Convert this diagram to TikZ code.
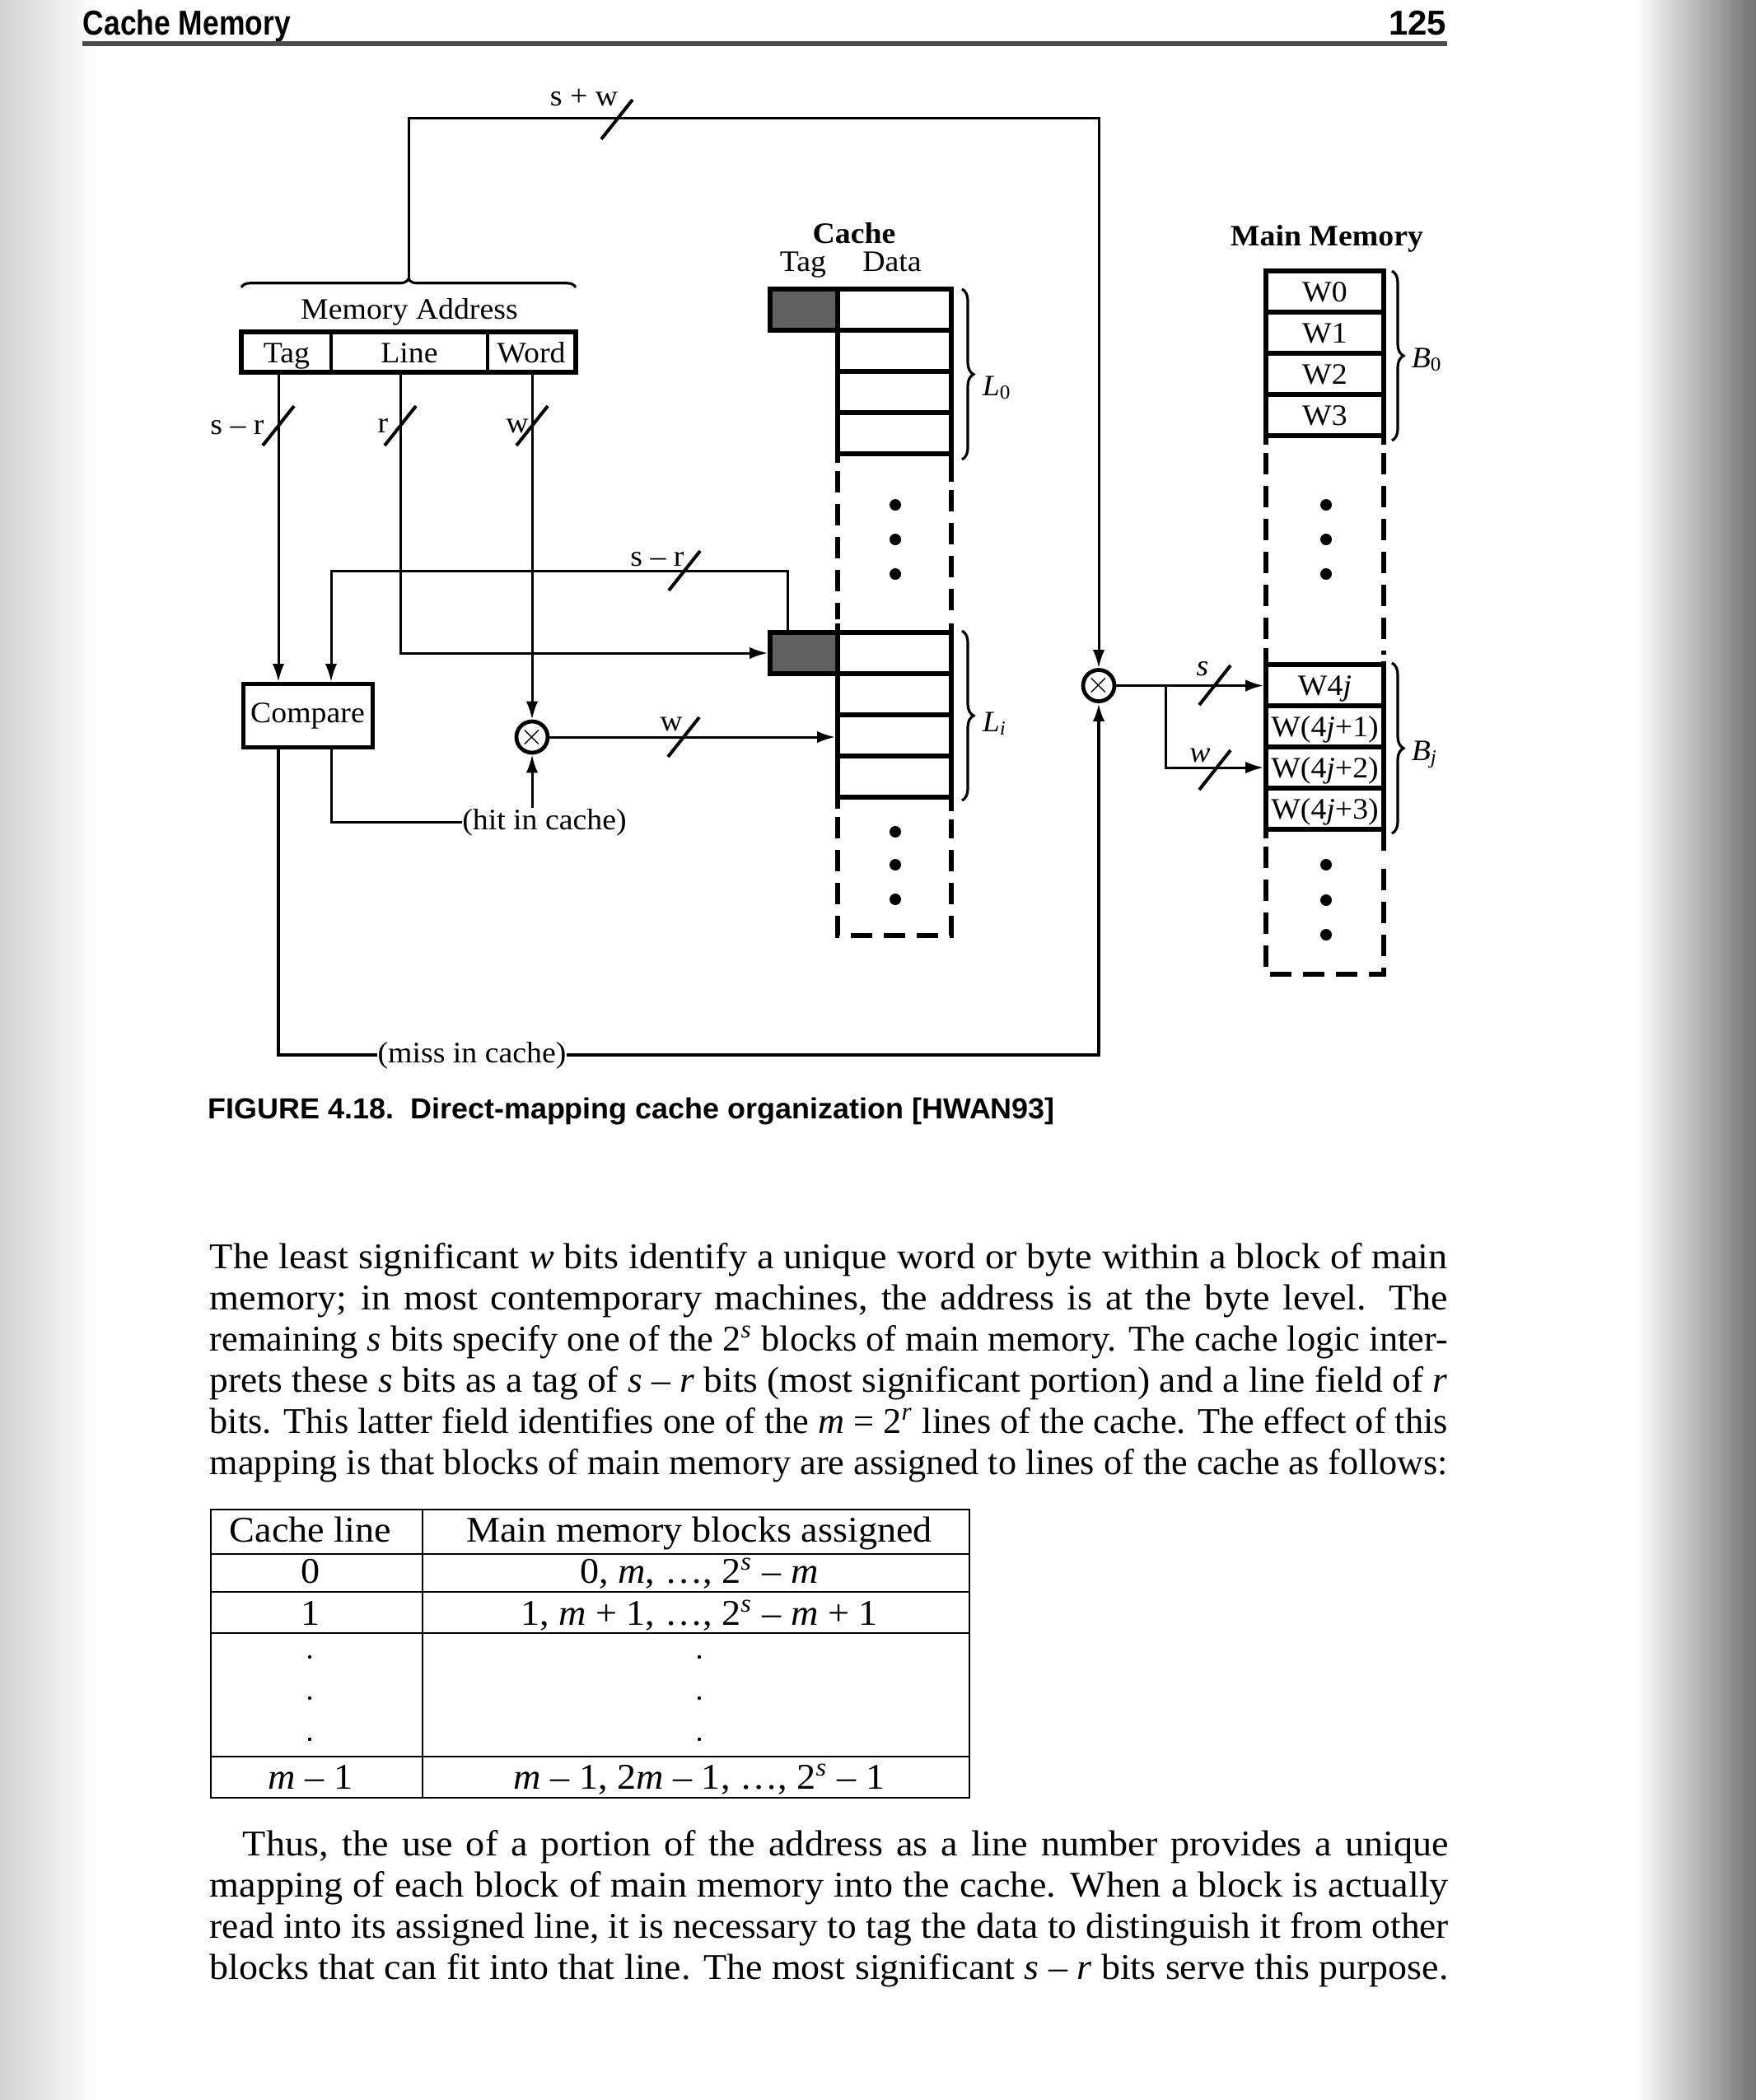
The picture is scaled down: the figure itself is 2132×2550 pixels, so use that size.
\documentclass[tikz,border=0pt]{standalone}
\usepackage{graphicx}
\usepackage{fontspec}
\setmainfont{Liberation Serif}[FakeStretch=1.05]
\setsansfont{Liberation Sans}
\usetikzlibrary{arrows.meta,decorations.pathreplacing}
\newlength\jlw
\newcommand\jline[2]{\settowidth\jlw{#2}\ifdim\jlw>#1\relax\resizebox{#1}{\height}{#2}\else\makebox[#1][s]{#2}\fi}
\begin{document}
\begin{tikzpicture}[x=0.25pt,y=-0.25pt,
  conn/.style={line width=0.75pt},
  arr/.style={conn,-{Latex[length=5.5pt,width=3.6pt]}},
  solidln/.style={line width=1.4pt},
  dashln/.style={line width=1.4pt,dash pattern=on 6.5pt off 3.5pt},
  lbl/.style={anchor=base,inner sep=0pt,font=\fontsize{9}{10}\selectfont},
  blbl/.style={anchor=base,inner sep=0pt,font=\fontsize{9}{10}\selectfont\bfseries},
  mul/.style={circle,draw,line width=1.2pt,minimum size=38*0.25pt,inner sep=0pt,font=\fontsize{9}{9}\selectfont},
  tagcell/.style={draw,line width=1.4pt,fill=black!62,minimum width=82*0.25pt,minimum height=50*0.25pt,inner sep=0pt},
  dcell/.style={draw,line width=1.4pt,minimum width=138*0.25pt,minimum height=50*0.25pt,inner sep=0pt},
  mmcell/.style={draw,line width=1.4pt,minimum width=143*0.25pt,minimum height=50*0.25pt,inner sep=0pt,
     text height=7.5pt,text depth=1.5pt,font=\fontsize{9}{10}\selectfont},
  brc/.style={decorate,decoration={brace,amplitude=3.5pt},line width=0.8pt},
  bus/.pic={\draw[line width=1pt] (-19,24) -- (19,-24);},
  body/.style={anchor=base west,inner sep=0pt,font=\fontsize{11}{12}\selectfont},
  tb/.style={anchor=base,inner sep=0pt,font=\fontsize{11}{12}\selectfont},
  tbl/.style={line width=0.6pt}]
\useasboundingbox (0,0) rectangle (2132,2550);
% page background
\fill[white] (0,0) rectangle (2132,2550);
\shade[left color=black!18,right color=white] (0,0) rectangle (120,2550);
\shade[left color=white,right color=black!55] (1985,0) rectangle (2132,2550);

% running head
\node[anchor=base west,inner sep=0pt,font=\sffamily\bfseries\fontsize{10.5}{12}\selectfont] (hd) at (100,42) {\resizebox{63pt}{\height}{Cache Memory}};
\node[anchor=base east,inner sep=0pt,font=\sffamily\bfseries\fontsize{10.5}{12}\selectfont] (pg) at (1757,42) {125};
\draw[line width=1.4pt,black!70] (100,53) -- (1757,53);

% ---------- memory address ----------
\node[draw,line width=1.6pt,minimum width=406*0.25pt,minimum height=49*0.25pt,inner sep=0pt] (maddr) at (496,427.5) {};
\draw[line width=1.1pt] (402,403) -- (402,452);
\draw[line width=1.1pt] (592,403) -- (592,452);
\node[lbl] (ftag) at (348,440) {Tag};
\node[lbl] (fline) at (497,440) {Line};
\node[lbl] (fword) at (645,440) {Word};
\node[lbl] (malbl) at (497,387) {Memory Address};
\draw[brc,decoration={amplitude=2.6pt}] (293,349) -- (699,349);
\coordinate (bracetip) at (496,339);
\coordinate (swA) at (496,143);
\coordinate (tx) at (338,0);
\coordinate (lx) at (486,0);
\coordinate (wx) at (646,0);
\coordinate (hx) at (402,0);

% ---------- compare, multipliers ----------
\node[draw,line width=1.25pt,minimum width=157*0.25pt,minimum height=77*0.25pt,inner sep=0pt,font=\fontsize{9}{10}\selectfont] (cmp) at (373.5,869) {Compare};
\node[mul] (m1) at (646,895) {$\times$};
\node[mul] (m2) at (1334,832.5) {$\times$};
\node[lbl] (hit) at (661,1007) {(hit in cache)};
\node[lbl] (miss) at (573,1290) {(miss in cache)};

% ---------- cache ----------
\node[blbl] (cachelbl) at (1037,295) {Cache};
\node[lbl] (ctaglbl) at (975,329) {Tag};
\node[lbl] (cdatalbl) at (1083,329) {Data};
\node[tagcell] (ctag0) at (976,376) {};
\node[dcell] (d01) at (1086,376) {};
\node[dcell] (d02) at (1086,426) {};
\node[dcell] (d03) at (1086,476) {};
\node[dcell] (d04) at (1086,526) {};
\node[tagcell] (ctagi) at (976,793) {};
\node[dcell] (di1) at (1086,793) {};
\node[dcell] (di2) at (1086,843) {};
\node[dcell] (di3) at (1086,893) {};
\node[dcell] (di4) at (1086,943) {};
\draw[solidln] (1017,551) -- (1017,562);
\draw[solidln] (1155,551) -- (1155,585);
\draw[dashln] (1017,572) -- (1017,752);
\draw[dashln] (1155,595) -- (1155,752);
\draw[solidln] (1017,757) -- (1017,768);
\draw[solidln] (1155,757) -- (1155,768);
\draw[solidln] (1017,968) -- (1017,982);
\draw[solidln] (1155,968) -- (1155,985);
\draw[dashln] (1017,992) -- (1017,1136) -- (1155,1136) -- (1155,995);
\foreach \yy in {613,655,697,1010,1050,1092} \fill (1087,\yy) circle[radius=7];
\draw[brc] (1168,351) -- (1168,558);
\draw[brc] (1168,766) -- (1168,972);
\node[anchor=base west,inner sep=0pt,font=\fontsize{9}{10}\selectfont] (l0) at (1192,480) {\textit{L}\textsubscript{0}};
\node[anchor=base west,inner sep=0pt,font=\fontsize{9}{10}\selectfont] (li) at (1192,888) {\textit{L\textsubscript{i}}};

% ---------- main memory ----------
\node[blbl] (mmlbl) at (1611,298) {Main Memory};
\node[mmcell] (mm0) at (1608.5,354) {W0};
\node[mmcell] (mm1) at (1608.5,404) {W1};
\node[mmcell] (mm2) at (1608.5,454) {W2};
\node[mmcell] (mm3) at (1608.5,504) {W3};
\node[mmcell] (mm4) at (1608.5,832) {W4\textit{j}};
\node[mmcell] (mm5) at (1608.5,882) {W(4\textit{j}+1)};
\node[mmcell] (mm6) at (1608.5,932) {W(4\textit{j}+2)};
\node[mmcell] (mm7) at (1608.5,982) {W(4\textit{j}+3)};
\draw[solidln] (1537,529) -- (1537,540);
\draw[solidln] (1680,529) -- (1680,540);
\draw[dashln] (1537,550) -- (1537,780);
\draw[dashln] (1680,550) -- (1680,795);
\draw[solidln] (1537,787) -- (1537,807);
\draw[solidln] (1680,803) -- (1680,807);
\draw[solidln] (1537,1007) -- (1537,1018);
\draw[solidln] (1680,1007) -- (1680,1033);
\draw[dashln] (1537,1028) -- (1537,1183) -- (1680,1183) -- (1680,1043);
\foreach \yy in {613,655,697,1050,1093,1135} \fill (1610,\yy) circle[radius=7];
\draw[brc] (1690,329) -- (1690,535);
\draw[brc] (1690,805) -- (1690,1012);
\node[anchor=base west,inner sep=0pt,font=\fontsize{9}{10}\selectfont] (b0) at (1713,446) {\textit{B}\textsubscript{0}};
\node[anchor=base west,inner sep=0pt,font=\fontsize{9}{10}\selectfont] (bj) at (1713,923) {\textit{B\textsubscript{j}}};

% ---------- connectors ----------
\draw[arr] (bracetip) -- (swA) -| (m2.north);
\draw[arr] (maddr.south -| tx) -- (cmp.north -| tx);
\draw[arr] (maddr.south -| lx) |- (ctagi.west);
\draw[arr] (maddr.south -| wx) -- (m1.north);
\coordinate (srA) at (956,693);
\coordinate (srB) at (402,693);
\draw[arr] (ctagi.north -| srA) -- (srA) -- (srB) -- (cmp.north -| srB);
\draw[arr] (m1.east) -- (m1 -| di3.west);
\draw[conn] (cmp.south -| hx) |- (hit.west);
\draw[arr] (hit.north -| m1) -- (m1.south);
\draw[line width=1pt] (cmp.south -| tx) |- (miss.west);
\draw[arr,line width=1pt] (miss.east) -| (m2.south);
\coordinate (brA) at (1415,832.5);
\draw[arr] (m2.east) -- (m2 -| mm4.west);
\draw[arr] (brA) |- (mm6.west);

% bus slashes and widths
\pic at (749,145) {bus};
\pic at (338,517) {bus};
\pic at (486,517) {bus};
\pic at (646,517) {bus};
\pic at (831,693) {bus};
\pic at (830,895) {bus};
\pic at (1475,832) {bus};
\pic at (1475,935) {bus};
\node[lbl] (lsw) at (709,128) {s + w};
\node[lbl] (lsr1) at (288,527) {s -- r};
\node[lbl] (lr) at (465,525) {r};
\node[lbl] (lw1) at (628,525) {w};
\node[lbl] (lsr2) at (798,687) {s -- r};
\node[lbl] (lw2) at (815,887) {w};
\node[lbl] (ls3) at (1460,820) {\textit{s}};
\node[lbl] (lw3) at (1457,925) {\textit{w}};

% caption
\node[anchor=base west,inner sep=0pt,font=\sffamily\bfseries\fontsize{8.8}{10}\selectfont] (cap) at (252,1358) {\resizebox{257pt}{\height}{FIGURE 4.18.\ \ Direct-mapping cache organization [HWAN93]}};

% ---------- paragraph 1 ----------
\node[body] (p1a) at (254,1540) {\jline{375.75pt}{The least significant \textit{w} bits identify a unique word or byte within a block of main}};
\node[body] (p1b) at (254,1590) {\jline{375.75pt}{memory; in most contemporary machines, the address is at the byte level. The}};
\node[body] (p1c) at (254,1640) {\jline{375.75pt}{remaining \textit{s} bits specify one of the 2\textsuperscript{\textit{s}} blocks of main memory. The cache logic inter-}};
\node[body] (p1d) at (254,1690) {\jline{375.75pt}{prets these \textit{s} bits as a tag of \textit{s} -- \textit{r} bits (most significant portion) and a line field of \textit{r}}};
\node[body] (p1e) at (254,1740) {\jline{375.75pt}{bits. This latter field identifies one of the \textit{m} = 2\textsuperscript{\textit{r}} lines of the cache. The effect of this}};
\node[body] (p1f) at (254,1790) {\jline{375.75pt}{mapping is that blocks of main memory are assigned to lines of the cache as follows:}};

% ---------- table ----------
\draw[tbl] (256,1833) rectangle (1177,2183);
\draw[tbl] (513,1833) -- (513,2183);
\foreach \yy in {1887,1933,1983,2133} \draw[tbl] (256,\yy) -- (1177,\yy);
\node[tb] (th1) at (377,1872) {Cache line};
\node[tb] (th2) at (849,1872) {Main memory blocks assigned};
\node[tb] (r01) at (377,1922) {0};
\node[tb] (r02) at (849,1922) {0, \textit{m}, \ldots, 2\textsuperscript{\textit{s}} -- \textit{m}};
\node[tb] (r11) at (377,1973) {1};
\node[tb] (r12) at (849,1973) {1, \textit{m} + 1, \ldots, 2\textsuperscript{\textit{s}} -- \textit{m} + 1};
\foreach \yy in {2012,2062,2112} {\fill (376,\yy) circle[radius=2.2]; \fill (849,\yy) circle[radius=2.2];}
\node[tb] (rm1) at (377,2172) {\textit{m} -- 1};
\node[tb] (rm2) at (849,2172) {\textit{m} -- 1, 2\textit{m} -- 1, \ldots, 2\textsuperscript{\textit{s}} -- 1};

% ---------- paragraph 2 ----------
\node[body] (p2a) at (294,2253) {\jline{366pt}{Thus, the use of a portion of the address as a line number provides a unique}};
\node[body] (p2b) at (254,2303) {\jline{376pt}{mapping of each block of main memory into the cache. When a block is actually}};
\node[body] (p2c) at (254,2353) {\jline{376pt}{read into its assigned line, it is necessary to tag the data to distinguish it from other}};
\node[body] (p2d) at (254,2403) {\jline{376pt}{blocks that can fit into that line. The most significant \textit{s} -- \textit{r} bits serve this purpose.}};
\end{tikzpicture}
\end{document}
